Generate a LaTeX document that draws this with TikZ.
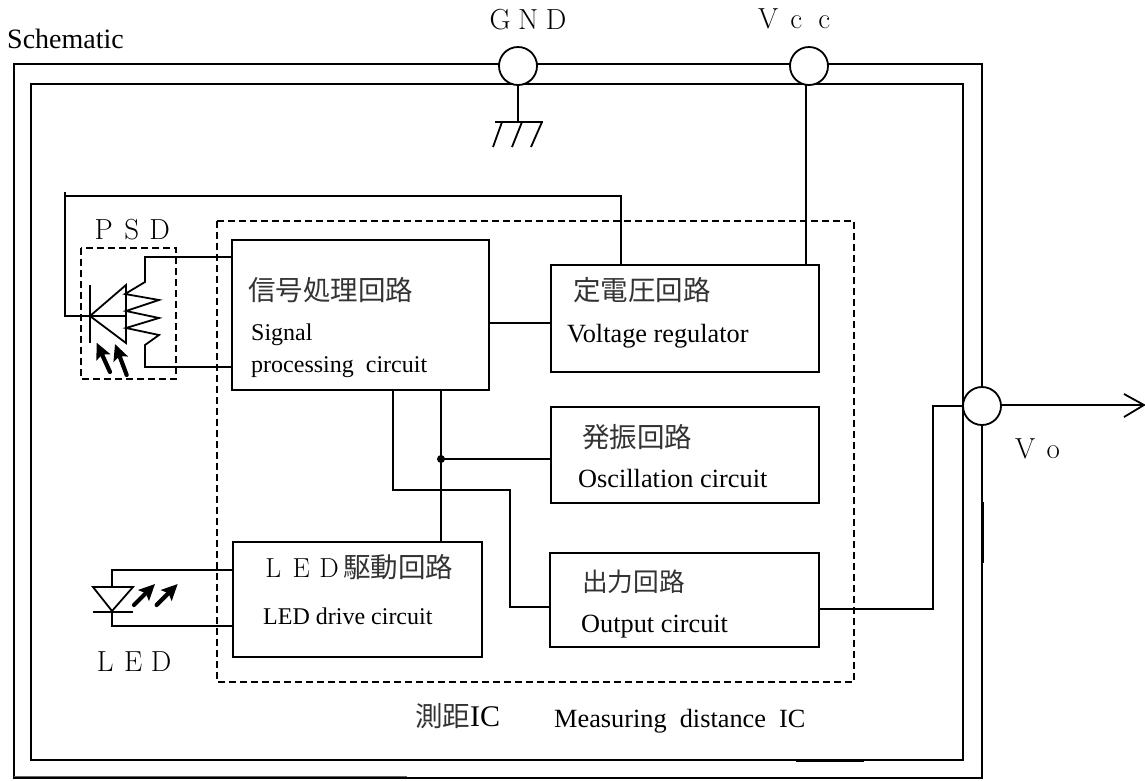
\documentclass[tikz,border=0pt]{standalone}
\usepackage{fontspec}
\setmainfont{Liberation Serif}
\newfontfamily\cjk{Noto Sans CJK JP}
\newfontfamily\lmr{Latin Modern Roman}
\usetikzlibrary{arrows.meta}
\newcommand{\zw}[1]{\makebox[28pt][c]{#1}}
\tikzset{
  wire/.style={draw=black,line width=1.8pt,line join=miter},
  blockbox/.style={draw=black,line width=1.8pt,fill=white,inner sep=0pt,outer sep=0pt,anchor=north west},
  dashbox/.style={draw=black,line width=1.8pt,dash pattern=on 7pt off 4pt},
  portc/.style={circle,draw=black,line width=1.8pt,fill=white,inner sep=0pt,outer sep=0pt,minimum size=38pt},
  lbl/.style={inner sep=0pt,anchor=base west,text=black},
  zen/.style={lbl,font=\lmr\fontsize{29}{29}\selectfont},
  jp/.style={lbl,text=black!80,font=\cjk\fontsize{27.5}{28}\selectfont},
  ensmall/.style={lbl,font=\fontsize{24}{24}\selectfont},
  enbig/.style={lbl,font=\fontsize{26.3}{26}\selectfont},
  fatarrow/.style={line width=4.2pt,line cap=round,-{Stealth[length=16pt,width=15pt,inset=3pt]}},
}
\begin{document}
\begin{tikzpicture}[x=1pt,y=-1pt]
\path[use as bounding box] (0,0) rectangle (1145,780);
% frames
\draw[wire] (14,778) -- (14,64) -- (982,64) -- (982,778) -- cycle;
\draw[wire] (31,760) -- (31,84) -- (963,84) -- (963,760) -- cycle;
\draw[line width=1.5pt,black!60] (14,776.5) -- (407,776.5);
\draw[line width=1pt] (796,761.5) -- (864,761.5);
\draw[line width=1pt] (983.5,502) -- (983.5,563);
% IC dashed
\draw[dashbox] (217,221) rectangle (854,682);
% PSD dashed
\draw[dashbox] (81,248) rectangle (176,379);
% ports
\node[portc] (gnd) at (518,66) {};
\node[portc] (vcc) at (809,66) {};
\node[portc] (vo) at (982,406) {};
\node[zen] at (486,29) {\zw{G}\zw{N}\zw{D}};
\node[zen] at (754,28) {\zw{V}\zw{c}\zw{c}};
\node[zen] at (1011,458) {\zw{V}\zw{o}};
% blocks
\node[blockbox,minimum width=257pt,minimum height=150pt] (sig) at (232,240) {};
\node[blockbox,minimum width=268pt,minimum height=107pt] (reg) at (551,265) {};
\node[blockbox,minimum width=268pt,minimum height=96pt] (osc) at (551,407) {};
\node[blockbox,minimum width=249pt,minimum height=115pt] (drv) at (233,542) {};
\node[blockbox,minimum width=269pt,minimum height=94pt] (out) at (550,553) {};
% wires
\coordinate (gndj) at (518,122);
\coordinate (h1) at (502,122);\coordinate (h2) at (522,122);\coordinate (h3) at (542,122);
\coordinate (h1e) at (493,147);\coordinate (h2e) at (512,147);\coordinate (h3e) at (531,147);
\draw[wire] (gnd.south) -- (gndj);
\draw[wire] (495,122) -- (543,122);
\draw[wire] (h1) -- (h1e) (h2) -- (h2e) (h3) -- (h3e);
\draw[wire] (806,85) -- (806,0 |- reg.north);
\coordinate (psdk) at (90,316);
\draw[wire] (621,0 |- reg.north) -- (621,196) -- (65,196) -- (65,316) -- (psdk);
\draw[wire] (65,196) -- (65,192);
\draw[wire] (sig.east |- 0,323) -- (reg.west |- 0,323);
\draw[wire] (441,0 |- sig.south) -- (441,0 |- drv.north);
\coordinate (jn) at (441,459);
\draw[wire] (393,0 |- sig.south) -- (393,490) -- (510,490) -- (510,607) -- (out.west |- 0,607);
\draw[wire] (jn) -- (osc.west |- jn);
\fill (jn) circle (4pt);
\draw[wire] (out.east |- 0,609) -- (933,609) -- (933,406) -- (vo.west);
\coordinate (votip) at (1144,405);
\draw[wire] (vo.east |- votip) -- (votip);
\draw[wire] (1124,394) -- (votip) -- (1124,417);
% PSD diode
\draw[wire] (sig.west |- 0,257) -- (145,257) -- (145,282) -- (125,294) -- (159,300) -- (126,311) -- (159,318) -- (126,328) -- (159,335) -- (145,345) -- (145,367) -- (sig.west |- 0,367);
\draw[wire] (90,285) -- (90,343);
\draw[wire] (126,285) -- (psdk) -- (126,343) -- cycle;
\draw[wire] (psdk) -- (126,316);
\draw[fatarrow] (110,372) -- (96.7,342.7);
\draw[fatarrow] (126.7,375) -- (115,344);
% LED
\draw[wire] (drv.west |- 0,570) -- (112,570) -- (112,626) -- (drv.west |- 0,626);
\draw[wire,fill=white] (93,587) -- (133,587) -- (112,611) -- cycle;
\draw[wire] (93,612) -- (133,612);
\draw[fatarrow] (134,605) -- (155,584);
\draw[fatarrow] (156.7,605) -- (177.7,584);
% texts
\node[lbl,font=\fontsize{28}{28}\selectfont] at (7,48) {Schematic};
\node[zen] at (89.5,239) {\zw{P}\zw{S}\zw{D}};
\node[zen] at (91,671) {\zw{L}\zw{E}\zw{D}};
\node[jp] at (248,300) {信号処理回路};
\node[ensmall] at (251,340) {Signal};
\node[ensmall] at (251,372) {processing\ \ circuit};
\node[jp] at (573,300) {定電圧回路};
\node[enbig] at (567,342) {Voltage regulator};
\node[jp] at (582,447) {発振回路};
\node[enbig] at (578,487) {Oscillation circuit};
\node[jp] at (259,577) {{\lmr\color{black}\zw{L}\zw{E}\zw{D}}駆動回路};
\node[ensmall] at (263,624) {LED drive circuit};
\node[jp,font=\cjk\fontsize{25.7}{26}\selectfont] at (582,591) {出力回路};
\node[enbig] at (581,632) {Output circuit};
\node[jp] at (415,726) {測距{\rmfamily\color{black}\fontsize{30}{30}\selectfont IC}};
\node[enbig] at (554,727) {Measuring\ \ distance\ \ IC};
\end{tikzpicture}
\end{document}
